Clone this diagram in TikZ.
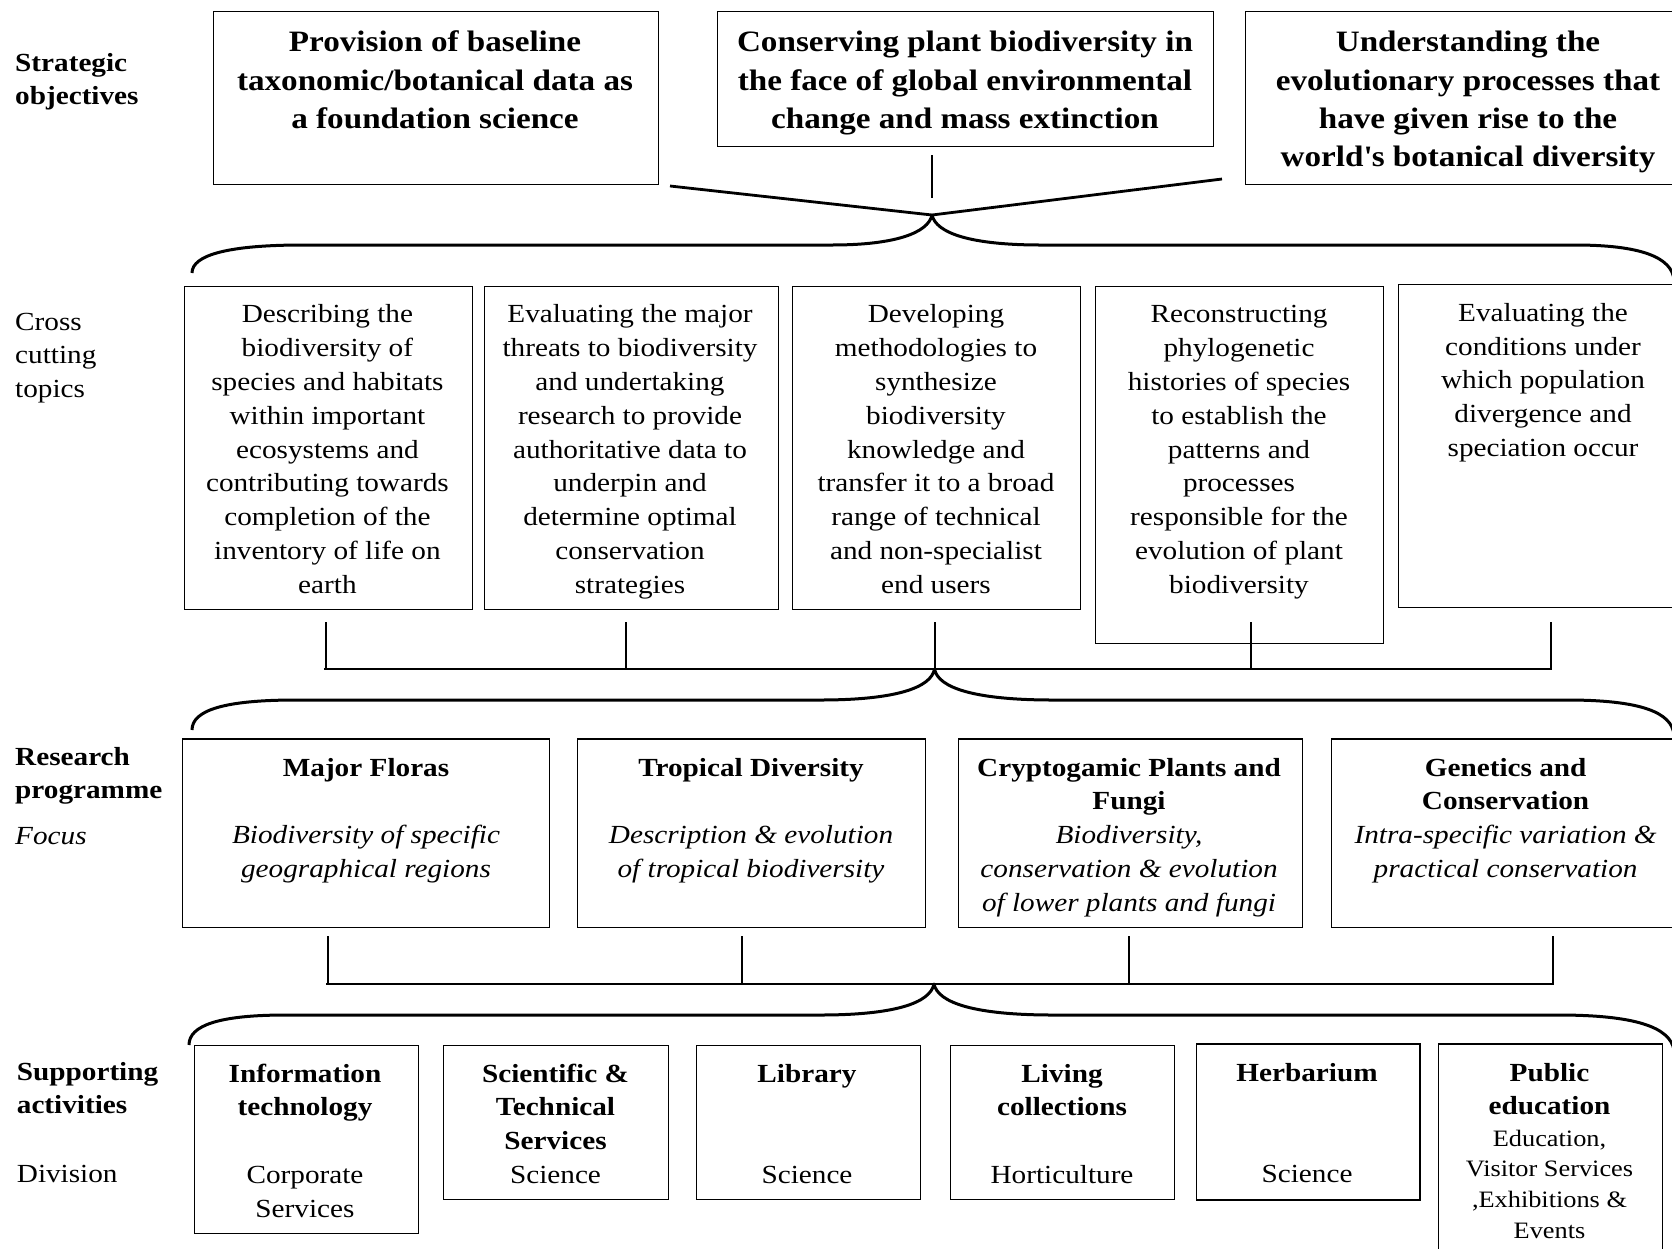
\documentclass[tikz,border=0pt]{standalone}
\usepackage{fontspec}
\setmainfont{Liberation Serif}[FakeStretch=1.12]
\newcommand\fbody{\fontsize{26.1}{33.8}\selectfont}
\newcommand\ftop{\fontsize{29.6}{38.3}\selectfont\bfseries}
\newcommand\fsmall{\fontsize{23.5}{30.6}\selectfont}
\tikzset{
  box/.style={draw, line width=1.3pt, inner sep=0pt, anchor=north west},
  txt/.style={anchor=north, inner sep=0pt, align=center, font=\fbody},
  lbl/.style={anchor=north west, inner sep=0pt, align=left, font=\fbody\bfseries},
  brace/.style={line width=3pt, line join=round},
  stem/.style={line width=2pt},
  bar/.style={line width=2.8pt, line cap=rect},
}
\begin{document}
\begin{tikzpicture}[x=1pt,y=-1pt]
\fill[white] (0,0) rectangle (1672,1248);
\useasboundingbox (0,0) rectangle (1672,1248);

% ---------- left labels
\node[lbl] (l1) at (15,47.3) {\strut Strategic\\objectives};
\node[lbl, font=\fbody] (l2) at (15,306.3) {\strut Cross\\cutting\\topics};
\node[lbl] (l3) at (15,741.3) {\strut Research\\programme};
\node[anchor=base west, inner sep=0pt, font=\fbody\itshape] (l4) at (15,844) {Focus};
\node[lbl] (l5) at (16.7,1056.3) {\strut Supporting\\activities};
\node[anchor=base west, inner sep=0pt, font=\fbody] (l6) at (16.7,1182) {Division};

% ---------- strategic objectives
\node[box, minimum width=445pt, minimum height=173pt] (A) at (213,11) {};
\node[box, minimum width=496pt, minimum height=135pt] (B) at (717,11) {};
\node[box, minimum width=446pt, minimum height=173pt] (C) at (1245,11) {};
\node[txt, font=\ftop] (At) at (435,24.9) {\strut Provision of baseline\\taxonomic/botanical data as\\a foundation science};
\node[txt, font=\ftop] (Bt) at (965,24.9) {\strut Conserving plant biodiversity in\\the face of global environmental\\change and mass extinction};
\node[txt, font=\ftop] (Ct) at (1468,24.9) {\strut Understanding the\\evolutionary processes that\\have given rise to the\\world\textquotesingle s botanical diversity};

\coordinate (tip1) at (932,215);
\coordinate (la) at (670,186);
\coordinate (lc) at (1222,179);
\coordinate (vb1) at (932,155);
\coordinate (vb2) at (932,198);
\draw[line width=2.8pt] (la) -- (tip1) -- (lc);
\draw[stem] (vb1) -- (vb2);
\draw[brace] (192,273) .. controls (192,255) and (228,245) .. (303,245) -- (832,245)
  .. controls (895,245) and (928,233) .. (tip1)
  .. controls (936,233) and (970,245) .. (1041,245) -- (1575,245)
  .. controls (1640,245) and (1672,257) .. (1674,280);

% ---------- cross cutting topics
\node[box, minimum width=288pt, minimum height=323pt] (D1) at (184,286) {};
\node[box, minimum width=294pt, minimum height=323pt] (D2) at (483.5,286) {};
\node[box, minimum width=288pt, minimum height=323pt] (D3) at (792,286) {};
\node[box, minimum width=288pt, minimum height=356.5pt] (D4) at (1095,286) {};
\node[box, minimum width=290pt, minimum height=323.3pt] (D5) at (1398,283.7) {};
\node[txt] (D1t) at (327.4,299.1) {\strut Describing the\\biodiversity of\\species and habitats\\within important\\ecosystems and\\contributing towards\\completion of the\\inventory of life on\\earth};
\node[txt] (D2t) at (630,299.1) {\strut Evaluating the major\\threats to biodiversity\\and undertaking\\research to provide\\authoritative data to\\underpin and\\determine optimal\\conservation\\strategies};
\node[txt] (D3t) at (936,299.1) {\strut Developing\\methodologies to\\synthesize\\biodiversity\\knowledge and\\transfer it to a broad\\range of technical\\and non-specialist\\end users};
\node[txt] (D4t) at (1239,299.1) {\strut Reconstructing\\phylogenetic\\histories of species\\to establish the\\patterns and\\processes\\responsible for the\\evolution of plant\\biodiversity};
\node[txt] (D5t) at (1543,297.4) {\strut Evaluating the\\conditions under\\which population\\divergence and\\speciation occur};

\coordinate (s1a) at (325.7,622);
\coordinate (s2a) at (625.7,622);
\coordinate (s3a) at (934.5,622);
\coordinate (s4a) at (1251,622);
\coordinate (s5a) at (1551,622);
\coordinate (tip2) at (934.5,669);
\foreach \s in {s1a,s2a,s3a,s4a,s5a} \draw[stem] (\s) -- (\s |- tip2);
\draw[bar] (s1a |- tip2) -- (s5a |- tip2);
\draw[brace] (192,730) .. controls (192,710) and (225,700) .. (296,700) -- (820,700)
  .. controls (895,700) and (931,688) .. (tip2)
  .. controls (938,688) and (975,700) .. (1053,700) -- (1567,700)
  .. controls (1640,700) and (1672,712) .. (1674,735);

% ---------- research programme
\node[box, minimum width=367pt, minimum height=188.4pt] (R1) at (182,738.3) {};
\node[box, minimum width=348pt, minimum height=188.4pt] (R2) at (577,738.3) {};
\node[box, minimum width=344pt, minimum height=188.4pt] (R3) at (958,738.3) {};
\node[box, minimum width=349pt, minimum height=188.4pt] (R4) at (1331,738.3) {};
\node[txt] (R1t) at (366,752.2) {\strut\textbf{Major Floras}\\ \mbox{}\\ \textit{Biodiversity of specific}\\ \textit{geographical regions}};
\node[txt] (R2t) at (751,752.2) {\strut\textbf{Tropical Diversity}\\ \mbox{}\\ \textit{Description \& evolution}\\ \textit{of tropical biodiversity}};
\node[txt] (R3t) at (1129,752.2) {\strut\textbf{Cryptogamic Plants and}\\ \textbf{Fungi}\\ \textit{Biodiversity,}\\ \textit{conservation \& evolution}\\ \textit{of lower plants and fungi}};
\node[txt] (R4t) at (1505.6,752.2) {\strut\textbf{Genetics and}\\ \textbf{Conservation}\\ \textit{Intra-specific variation \&}\\ \textit{practical conservation}};

\coordinate (r1a) at (327.7,936);
\coordinate (r2a) at (742,936);
\coordinate (r3a) at (1128.6,936);
\coordinate (r4a) at (1553,936);
\coordinate (tip3) at (934,984);
\foreach \s in {r1a,r2a,r3a,r4a} \draw[stem] (\s) -- (\s |- tip3);
\draw[bar] (r1a |- tip3) -- (r4a |- tip3);
\draw[brace] (189,1045) .. controls (189,1025) and (220,1015) .. (286,1015) -- (820,1015)
  .. controls (895,1015) and (930,1003) .. (tip3)
  .. controls (938,1003) and (975,1015) .. (1053,1015) -- (1558,1015)
  .. controls (1635,1015) and (1670,1027) .. (1674,1050);

% ---------- supporting activities
\node[box, minimum width=224pt, minimum height=188pt] (S1) at (193.7,1045) {};
\node[box, minimum width=224.5pt, minimum height=153.5pt] (S2) at (443,1045) {};
\node[box, minimum width=224.4pt, minimum height=153.5pt] (S3) at (695.6,1045) {};
\node[box, minimum width=224pt, minimum height=153.5pt] (S4) at (950,1045) {};
\node[box, line width=1.8pt, minimum width=223.4pt, minimum height=155.7pt] (S5) at (1195.6,1043.3) {};
\node[box, minimum width=224.3pt, minimum height=215pt] (S6) at (1437.7,1043.3) {};
\node[txt] (S1t) at (305,1058.3) {\strut\textbf{Information}\\ \textbf{technology}\\ \mbox{}\\ Corporate\\ Services};
\node[txt] (S2t) at (555.5,1058.3) {\strut\textbf{Scientific \&}\\ \textbf{Technical}\\ \textbf{Services}\\ Science};
\node[txt] (S3t) at (807,1058.3) {\strut\textbf{Library}\\ \mbox{}\\ \mbox{}\\ Science};
\node[txt] (S4t) at (1062,1058.3) {\strut\textbf{Living}\\ \textbf{collections}\\ \mbox{}\\ Horticulture};
\node[txt] (S5t) at (1307,1057.3) {\strut\textbf{Herbarium}\\ \mbox{}\\ \mbox{}\\ Science};
\node[txt] (S6t) at (1549.5,1057.3) {\strut\textbf{Public}\\ \textbf{education}};
\node[txt, font=\fsmall] (S6u) at (1549.5,1124.6) {\strut Education,\\ Visitor Services\\ ,Exhibitions \&\\ Events};
\end{tikzpicture}
\end{document}
